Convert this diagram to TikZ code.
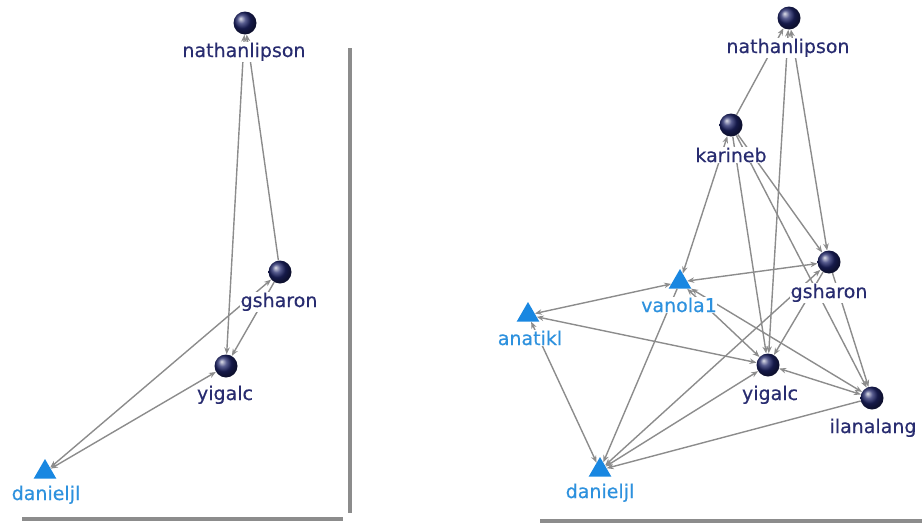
\documentclass[tikz,border=0pt]{standalone}
\usepackage{fontspec}
\setmainfont{DejaVu Sans}
\newfontfamily\labfont[FakeBold=0.4]{DejaVu Sans}
\usetikzlibrary{arrows.meta,shapes.geometric}
\definecolor{navy}{RGB}{30,36,104}
\definecolor{navytext}{RGB}{40,44,112}
\definecolor{triblue}{RGB}{25,135,225}
\definecolor{tritext}{RGB}{45,145,222}
\definecolor{edgegray}{RGB}{140,140,140}
\definecolor{framegray}{RGB}{140,140,140}
\tikzset{
  sphere/.style={circle, minimum size=23pt, inner sep=0pt, shading=ball, ball color=navy},
  tri/.style={regular polygon, regular polygon sides=3, minimum size=26pt, inner sep=0pt, fill=triblue},
  slab/.style={anchor=base, fill=white, inner sep=0.6pt, text=navytext, font=\labfont\fontsize{19}{21}\selectfont},
  tlab/.style={slab, text=tritext},
  link/.style={draw=edgegray, line width=1.4pt, -{Stealth[length=7pt,width=5.5pt]}},
  blink/.style={draw=edgegray, line width=1.4pt, {Stealth[length=7pt,width=5.5pt]}-{Stealth[length=7pt,width=5.5pt]}},
  frameline/.style={draw=framegray, line width=4pt}
}
\begin{document}
\begin{tikzpicture}[x=1pt,y=-1pt]
\useasboundingbox (0,0) rectangle (922,525);
% frame shadows
\draw[frameline] (350,48) -- (350,513);
\draw[frameline] (22,519) -- (343,519);
\draw[frameline] (540,521) -- (922,521);
% ---------------- left panel ----------------
\node[sphere] (Ln) at (245,23) {};
\node[sphere] (Lg) at (280,272) {};
\node[sphere] (Ly) at (226,366) {};
\node[tri] (Ld) at (45,472) {};
\draw[blink] (Ln) -- (Ly);
\draw[link] (Lg) -- (Ln);
\draw[link] (Lg) -- (Ly);
\draw[blink] (Ld) -- (Lg);
\draw[blink] (Ld) -- (Ly);
\node[slab] (Lnl) at (244,57) {nathanlipson};
\node[slab] (Lgl) at (279,307) {gsharon};
\node[slab] (Lyl) at (225,400) {yigalc};
\node[tlab] (Ldl) at (46,500) {danieljl};
% ---------------- right panel ----------------
\node[sphere] (Rn) at (789,18) {};
\node[sphere] (Rk) at (731,125) {};
\node[sphere] (Rg) at (829,262) {};
\node[sphere] (Ry) at (768,365) {};
\node[sphere] (Ri) at (872,398) {};
\node[tri] (Rv) at (680,282) {};
\node[tri] (Ra) at (528,315) {};
\node[tri] (Rd) at (600,470) {};
\draw[link] (Rk) -- (Rn);
\draw[blink] (Rn) -- (Ry);
\draw[blink] (Rn) -- (Rg);
\draw[blink] (Rk) -- (Rv);
\draw[link] (Rk) -- (Ry);
\draw[link] (Rk) -- (Ri);
\draw[link] (Rk) -- (Rg);
\draw[blink] (Rg) -- (Rv);
\draw[link] (Rg) -- (Ry);
\draw[blink] (Rg) -- (Rd);
\draw[link] (Rg) -- (Ri);
\draw[blink] (Rv) -- (Ry);
\draw[blink] (Rv) -- (Ri);
\draw[link] (Rv) -- (Rd);
\draw[blink] (Ra) -- (Rv);
\draw[blink] (Ra) -- (Ry);
\draw[blink] (Ra) -- (Rd);
\draw[blink] (Ry) -- (Ri);
\draw[blink] (Ry) -- (Rd);
\draw[link] (Ri) -- (Rd);
\node[slab] (Rnl) at (788,53) {nathanlipson};
\node[slab] (Rkl) at (731,162) {karineb};
\node[slab] (Rgl) at (829,298) {gsharon};
\node[tlab] (Rvl) at (679,312) {vanola1};
\node[tlab] (Ral) at (530,345) {anatikl};
\node[slab] (Ryl) at (770,400) {yigalc};
\node[slab] (Ril) at (873,433) {ilanalang};
\node[tlab] (Rdl) at (600,498) {danieljl};
\end{tikzpicture}
\end{document}
